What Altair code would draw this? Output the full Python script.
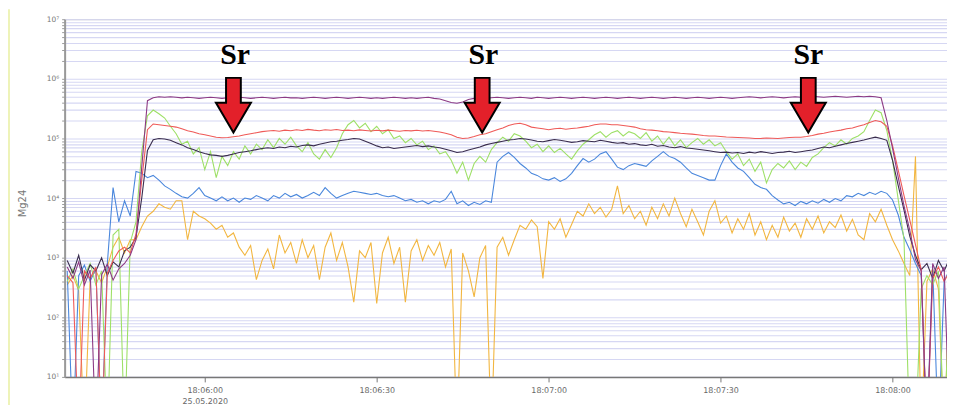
import json
import altair as alt
import pandas as pd

# seconds relative to 18:06:00, one reading per second
seconds = list(range(-24, 131))

purple = [700, 450, 850, 350, 620, 1, 520, 780, 420, 650,
          800, 1100, 2000, 33000, 430000, 480000, 500000, 490000, 500000, 490000,
          480000, 490000, 480000, 470000, 480000, 490000, 480000, 470000, 480000, 480000,
          490000, 480000, 470000, 480000, 490000, 480000, 470000, 480000, 490000, 480000,
          480000, 470000, 480000, 490000, 480000, 470000, 480000, 490000, 480000, 470000,
          480000, 490000, 480000, 470000, 480000, 470000, 480000, 490000, 480000, 470000,
          480000, 470000, 480000, 490000, 470000, 460000, 430000, 400000, 390000, 410000,
          450000, 470000, 480000, 470000, 480000, 490000, 480000, 470000, 480000, 490000,
          480000, 470000, 490000, 480000, 470000, 480000, 490000, 480000, 470000, 480000,
          490000, 480000, 470000, 480000, 490000, 480000, 470000, 480000, 490000, 480000,
          470000, 480000, 490000, 480000, 470000, 480000, 490000, 480000, 470000, 480000,
          490000, 480000, 470000, 480000, 490000, 480000, 470000, 480000, 490000, 500000,
          490000, 480000, 490000, 500000, 490000, 480000, 490000, 500000, 490000, 500000,
          510000, 500000, 490000, 500000, 510000, 500000, 490000, 500000, 510000, 500000,
          510000, 500000, 480000, 200000, 68000, 22000, 7400, 2900, 930, 600,
          1, 800, 450, 700, 1]

red = [500, 380, 1, 600, 450, 700, 1, 550, 900, 1300,
       1500, 1200, 2500, 20000, 140000, 175000, 170000, 165000, 160000, 155000,
       145000, 135000, 128000, 120000, 115000, 110000, 105000, 103000, 104000, 107000,
       110000, 115000, 120000, 125000, 130000, 133000, 136000, 132000, 138000, 135000,
       140000, 136000, 142000, 138000, 135000, 140000, 137000, 141000, 136000, 138000,
       135000, 139000, 136000, 133000, 137000, 134000, 138000, 135000, 132000, 136000,
       134000, 137000, 133000, 136000, 132000, 128000, 122000, 115000, 105000, 100000,
       102000, 108000, 115000, 120000, 130000, 140000, 150000, 165000, 175000, 180000,
       170000, 155000, 150000, 145000, 140000, 145000, 148000, 143000, 147000, 150000,
       155000, 160000, 170000, 175000, 175000, 170000, 170000, 165000, 160000, 155000,
       145000, 140000, 138000, 135000, 130000, 128000, 125000, 122000, 120000, 118000,
       115000, 112000, 110000, 110000, 108000, 106000, 105000, 104000, 103000, 102000,
       100000, 100000, 102000, 101000, 100000, 102000, 104000, 105000, 105000, 108000,
       112000, 118000, 122000, 128000, 133000, 138000, 145000, 150000, 160000, 170000,
       185000, 200000, 190000, 160000, 76000, 29000, 11000, 4300, 1650, 630,
       1, 450, 700, 400, 600]

dark = [900, 550, 1100, 420, 760, 600, 1000, 500, 850, 700,
        1300, 1500, 2200, 10000, 63000, 95000, 100000, 98000, 93000, 85000,
        78000, 70000, 65000, 60000, 56000, 53000, 52000, 50000, 52000, 55000,
        58000, 60000, 62000, 65000, 68000, 70000, 68000, 72000, 70000, 74000,
        72000, 76000, 78000, 75000, 80000, 84000, 88000, 90000, 93000, 96000,
        100000, 98000, 90000, 82000, 75000, 70000, 72000, 68000, 70000, 72000,
        74000, 76000, 73000, 75000, 72000, 70000, 66000, 62000, 58000, 60000,
        64000, 68000, 72000, 78000, 82000, 86000, 90000, 94000, 96000, 100000,
        98000, 94000, 90000, 88000, 92000, 96000, 93000, 90000, 86000, 88000,
        92000, 90000, 88000, 93000, 90000, 86000, 83000, 85000, 80000, 82000,
        78000, 76000, 80000, 74000, 76000, 72000, 70000, 73000, 69000, 68000,
        66000, 64000, 62000, 60000, 58000, 59000, 57000, 58000, 56000, 59000,
        57000, 60000, 58000, 56000, 58000, 59000, 61000, 58000, 60000, 62000,
        64000, 68000, 72000, 70000, 74000, 78000, 82000, 86000, 90000, 94000,
        100000, 105000, 100000, 93000, 43000, 16000, 6300, 2300, 1100, 630,
        800, 450, 900, 600, 1000]

green = [400, 650, 300, 500, 800, 350, 600, 1, 2400, 3000,
         1, 1800, 4000, 60000, 240000, 300000, 260000, 220000, 160000, 120000,
         80000, 90000, 55000, 70000, 30000, 60000, 22000, 50000, 35000, 60000,
         45000, 75000, 55000, 80000, 65000, 95000, 70000, 100000, 80000, 105000,
         75000, 60000, 85000, 55000, 45000, 65000, 48000, 70000, 120000, 170000,
         200000, 150000, 180000, 130000, 160000, 120000, 140000, 100000, 110000, 85000,
         100000, 78000, 90000, 65000, 75000, 55000, 60000, 43000, 26000, 40000,
         20000, 38000, 50000, 40000, 65000, 85000, 105000, 90000, 120000, 110000,
         90000, 70000, 80000, 60000, 75000, 58000, 68000, 55000, 45000, 62000,
         80000, 95000, 115000, 130000, 105000, 125000, 135000, 110000, 130000, 120000,
         100000, 125000, 90000, 110000, 80000, 105000, 75000, 95000, 70000, 85000,
         100000, 80000, 95000, 75000, 85000, 60000, 45000, 55000, 35000, 45000,
         28000, 40000, 18000, 30000, 38000, 32000, 42000, 30000, 40000, 34000,
         48000, 55000, 70000, 85000, 75000, 95000, 80000, 100000, 110000, 130000,
         200000, 300000, 270000, 136000, 43000, 9300, 2000, 1, 1, 300,
         500, 350, 600, 1, 450]

blue = [600, 1, 500, 750, 400, 650, 1, 800, 15000, 4000,
        9000, 5000, 28000, 26000, 22000, 24000, 20000, 16000, 14000, 12000,
        10500, 10000, 12000, 15000, 11000, 10000, 9000, 10500, 9000, 10000,
        8500, 10000, 9500, 11000, 10000, 9000, 11000, 10000, 12000, 10500,
        11500, 10000, 11000, 12500, 11000, 15000, 12000, 10000, 11000, 12000,
        13000, 12500, 12000, 11500, 12000, 11000, 10500, 11000, 10000, 9000,
        9500, 8500, 9000, 8000, 9000, 8500, 9500, 13000, 8000, 9000,
        7500, 8500, 7800, 9000, 8500, 40000, 50000, 58000, 48000, 38000,
        32000, 26000, 24000, 21000, 20000, 22000, 19000, 21000, 26000, 35000,
        46000, 40000, 45000, 55000, 60000, 45000, 33000, 30000, 35000, 38000,
        36000, 34000, 42000, 50000, 60000, 50000, 46000, 40000, 32000, 26000,
        24000, 22000, 20000, 20000, 35000, 55000, 40000, 32000, 28000, 22000,
        17000, 15000, 14000, 11000, 9300, 8000, 8500, 7500, 8800, 8000,
        9000, 8200, 9500, 8500, 9800, 9000, 11000, 10500, 12000, 11000,
        12500, 11500, 13000, 12000, 9300, 5200, 2200, 1360, 800, 500,
        1, 700, 1, 400, 650]

orange = [350, 500, 280, 1, 450, 600, 380, 700, 1500, 2200,
          1200, 2000, 2000, 3300, 5000, 6000, 8000, 7000, 6500, 9000,
          9000, 2000, 6000, 5000, 4500, 3800, 3000, 3500, 2200, 2600,
          1500, 1100, 1600, 430, 900, 1400, 650, 2400, 1200, 1800,
          800, 2000, 1000, 1600, 430, 1500, 2600, 900, 1800, 700,
          180, 1300, 1000, 1800, 170, 1200, 2200, 800, 1500, 180,
          1300, 2000, 900, 1600, 1100, 1800, 700, 1400, 1, 1200,
          600, 220, 1000, 1600, 1, 1500, 2200, 1100, 2000, 3500,
          3000, 4300, 3300, 450, 4000, 3000, 4500, 2200, 3600, 6000,
          5000, 8000, 5500, 7000, 4800, 6500, 16000, 5500, 7500, 4500,
          6000, 3500, 7000, 4500, 8000, 5000, 10000, 5500, 3300, 6500,
          4000, 2400, 6000, 9000, 3800, 5000, 2600, 4500, 3000, 5500,
          2400, 4000, 2000, 3500, 2200, 4800, 2800, 3800, 2200, 4500,
          3000, 5000, 2600, 4000, 3200, 5200, 2800, 4400, 2400, 2000,
          5500, 4000, 6500, 3500, 2000, 1300, 800, 500, 50000, 1,
          400, 650, 300, 1, 500]

series_names = ["Orange", "Blue", "Green", "Dark", "Red", "Purple"]
series_values = [orange, blue, green, dark, red, purple]
series_colors = ["#f2b640", "#4a87dc", "#9ee067", "#3a2d4e", "#ef5a58", "#8c3a84"]

arrow_seconds = [5.0, 48.4, 105.3]
arrow_values = [361000, 361000, 361000]
label_seconds = [5.3, 48.6, 105.3]
label_values = [2500000, 2500000, 2500000]
label_texts = ["Sr", "Sr", "Sr"]

x_tick_values = [0, 30, 60, 90, 120]
x_tick_labels = ["18:06:00|25.05.2020", "18:06:30", "18:07:00", "18:07:30", "18:08:00"]
y_decades = [10, 100, 1000, 10000, 100000, 1000000, 10000000]
y_tick_labels = ["10¹", "10²", "10³", "10⁴", "10⁵", "10⁶", "10⁷"]
y_grid_values = [k * 10 ** d for d in range(1, 7) for k in range(1, 10)] + [10 ** 7]

for v in series_values:
    assert len(v) == len(seconds)

x_label_expr = "split(%s[indexof(%s, datum.value)], '|')" % (
    json.dumps(x_tick_labels, ensure_ascii=False), json.dumps(x_tick_values))
y_label_expr = "indexof(%s, datum.value) >= 0 ? %s[indexof(%s, datum.value)] : ''" % (
    json.dumps(y_decades), json.dumps(y_tick_labels, ensure_ascii=False), json.dumps(y_decades))

x_enc = alt.X("t:Q",
              scale=alt.Scale(domain=[-24.45, 129.5], nice=False, zero=False),
              axis=alt.Axis(values=x_tick_values, labelExpr=x_label_expr, title=None,
                            grid=False, tickSize=5, tickColor="#777", domainColor="#777",
                            domainWidth=1.5, labelFontSize=8, labelColor="#666",
                            labelPadding=5, labelLineHeight=11, labelFont="DejaVu Sans"))
y_enc = alt.Y("cps:Q",
              scale=alt.Scale(type="log", domain=[10, 10000000], nice=False),
              axis=alt.Axis(values=y_grid_values, labelExpr=y_label_expr, title="Mg24",
                            grid=True, gridColor="#d6d7f3", gridWidth=1.1,
                            tickSize=3, tickColor="#999", domainColor="#999", domainWidth=2,
                            labelFontSize=7.5, labelColor="#777", labelPadding=3,
                            labelFont="DejaVu Sans", titleFontSize=10, titleColor="#777",
                            titleFontWeight="normal", titleFont="DejaVu Sans",
                            titleX=-42, titleY=185, titleAngle=270,
                            titleAlign="center", titleBaseline="middle"))

layers = []
for name, vals, color in zip(series_names, series_values, series_colors):
    df = pd.DataFrame({"t": seconds, "cps": vals, "series": name})
    layers.append(
        alt.Chart(df).mark_line(color=color, strokeWidth=1.1, clip=True).encode(x=x_enc, y=y_enc)
    )

edge = alt.Chart(pd.DataFrame({"k": [0]})).mark_rule(color="#eef3b8", strokeWidth=2).encode(
    x=alt.value(-56), y=alt.value(-10), y2=alt.value(392))

ARROW = "M -0.27 -1 L 0.27 -1 L 0.27 -0.09 L 0.64 -0.09 L 0 1 L -0.64 -0.09 L -0.27 -0.09 Z"
arrows = alt.Chart(pd.DataFrame({"t": arrow_seconds, "cps": arrow_values})).mark_point(
    shape=ARROW, filled=True, fill="#e3202a", stroke="black", strokeWidth=2,
    size=3025, opacity=1).encode(x=x_enc, y=y_enc)

labels = alt.Chart(pd.DataFrame({"t": label_seconds, "cps": label_values, "txt": label_texts})).mark_text(
    font="Liberation Serif", fontWeight="bold", fontSize=30, color="black",
    baseline="middle", align="center").encode(x=x_enc, y=y_enc, text="txt:N")

chart = alt.layer(*layers, arrows, labels, edge).properties(
    width=888, height=360,
    padding={"left": 57, "top": 10, "right": 0, "bottom": 30},
    autosize=alt.AutoSizeParams(type="none"),
    background="white",
).configure_view(stroke="#c8c8c8")

chart.save("out.html", embed_options={"renderer": "svg", "actions": False})
